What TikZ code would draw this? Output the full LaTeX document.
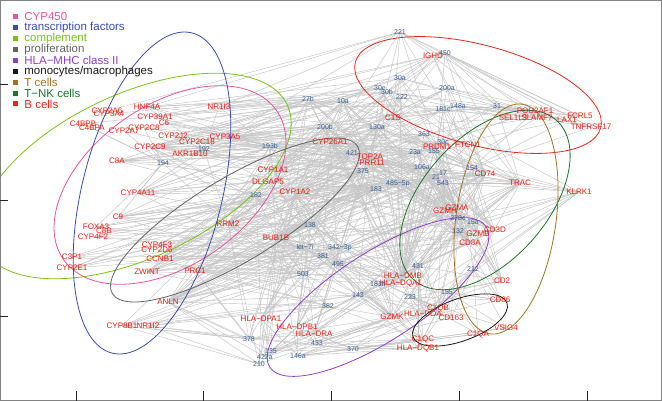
\documentclass[tikz,border=0pt]{standalone}
\usepackage{fontspec}
\setmainfont{Liberation Sans}
\usetikzlibrary{positioning,backgrounds}
\definecolor{cyppink}{RGB}{232,84,160}
\definecolor{tfblue}{RGB}{59,76,175}
\definecolor{complgreen}{RGB}{122,196,16}
\definecolor{prolifgray}{RGB}{100,100,100}
\definecolor{hlapurple}{RGB}{142,62,200}
\definecolor{monoblack}{RGB}{25,25,25}
\definecolor{tbrown}{RGB}{160,115,35}
\definecolor{tnkgreen}{RGB}{30,115,45}
\definecolor{bred}{RGB}{232,38,28}
\definecolor{genered}{RGB}{232,30,20}
\definecolor{mirblue}{RGB}{55,95,150}
\definecolor{linkgray}{RGB}{196,196,196}
\definecolor{framegray}{RGB}{130,130,130}
\tikzset{
  gene/.style={text=genered,font=\fontsize{8}{9}\selectfont,inner sep=0pt},
  mir/.style={text=mirblue,font=\fontsize{7}{8}\selectfont,inner sep=0pt},
  link/.style={draw=linkgray,line width=0.45pt},
  ring/.style={draw=#1,line width=0.8pt},
  legsq/.style={fill=#1,minimum size=5pt,inner sep=0pt},
  legtxt/.style={text=#1,font=\fontsize{11.5}{12}\selectfont,inner sep=0pt,anchor=west},
  axtick/.style={draw=black!85,line width=0.6pt},
}

\begin{document}
\begin{tikzpicture}[x=1pt,y=-1pt]
  \useasboundingbox (0,0) rectangle (662,401);
  \clip (0,0) rectangle (662,401);
  % genes
  \foreach \n/\x/\y/\t in {IGHD/433/56/IGHD, C1S/393/118/C1S, PRDM1/437/147/PRDM1, FTCN1/468/145/FTCN1,
    POU2AF1/535/111/POU2AF1, SEL1L3/513/118/SEL1L3, SLAMF7/537/118/SLAMF7, LAX1/567/120/LAX1,
    FCRL5/580/116/FCRL5, TNFRSF17/591/127/TNFRSF17, CD74/485/174/CD74, TRAC/520/183/TRAC,
    KLRK1/579/192/KLRK1, GZMH/445/211/GZMH, GZMA/457/208/GZMA, GZMB/478/234/GZMB,
    CD3D/495/230/CD3D, CD8A/470/243/CD8A, CD2/502/281/CD2, CD86/500/300/CD86,
    C1QB/438/308/C1QB, HLADOA/423/314/HLA−DOA, CD163/451/318/CD163, C1QC/423/339/C1QC,
    HLADQB1/418/348/HLA−DQB1, C1QA/478/334/C1QA, VSIG4/506/328/VSIG4, HLADMB/403/276/HLA−DMB,
    HLADQA1/401/283/HLA−DQA1, GZMK/392/317/GZMK, HLADPA1/261/319/HLA−DPA1, HLADPB1/297/327/HLA−DPB1,
    HLADRA/314/334/HLA−DRA, ANLN/168/302/ANLN, CYP8B1/122/326/CYP8B1, NR1I2/148/326/NR1I2,
    ZWINT/147/272/ZWINT, PRC1/195/271/PRC1, CCNB1/160/259/CCNB1, CYP4F3/157/245/CYP4F3,
    CYP2D6/157/250/CYP2D6, C3P1/72/257/C3P1, CYP2E1/72/268/CYP2E1, CYP4F2/93/237/CYP4F2,
    FOXA3/96/227/FOXA3, C8B/104/231/C8B, C9/118/217/C9, CYP4A11/138/193/CYP4A11,
    C8A/117/161/C8A, CYP2C9/150/147/CYP2C9, AKR1B10/190/154/AKR1B10, CYP2J2/173/136/CYP2J2,
    CYP2C18/197/142/CYP2C18, CYP3A5/225/137/CYP3A5, NR1I3/219/107/NR1I3, HNF4A/147/107/HNF4A,
    CYP39A1/155/117/CYP39A1, C6/164/123/C6, CYP2C8/144/128/CYP2C8, CYP2A7/124/131/CYP2A7,
    CYP2A6/107/111/CYP2A6, CYP3A4/109/114/CYP3A4, C4BPB/83/124/C4BPB, C4BPA/92/128/C4BPA,
    CYP1A1/273/170/CYP1A1, DLGAP5/268/182/DLGAP5, CYP1A2/295/192/CYP1A2, CYP26A1/330/142/CYP26A1,
    TOP2A/370/157/TOP2A, PRR11/372/163/PRR11, RRM2/228/224/RRM2, BUB1B/276/238/BUB1B}
    \node[gene] (\n) at (\x,\y) {\t};
  % miRNAs
  \foreach \n/\x/\y/\t in {m221/400/32/221, m450/445/53/450, m30a/400/78/30a, m30e/380/88/30e,
    m30b/387/92/30b, m222/402/97/222, m200a/447/88/200a, m181c/443/109/181c, m148a/458/106/148a,
    m31/497/106/31, m27b/308/99/27b, m10a/343/101/10a, m200b/325/127/200b, m130a/377/127/130a,
    m363/424/134/363, m30c/443/142/30c, m15b/434/151/155, m23a/415/152/23a, m421/352/153/421,
    m375/363/171/375, m106a/422/167/106a, m21/436/177/21, m17/443/173/17, m543/443/183/543,
    m154/472/168/154, m183/376/189/183, m485/398/184/485−5p, m193b/270/146/193b, m192/204/149/192,
    m194/163/163/194, m182/256/195/182, m138/310/225/138, mlet7i/305/247/let−7i, m342/340/248/342−3p,
    m381/323/256/381, m495/338/264/495, m503/303/274/503, m431/418/266/431, m181b/378/284/181b,
    m143/358/295/143, m223/410/297/223, m382/328/306/382, m378/249/339/378, m433/317/343/433,
    m370/353/349/370, m135/271/351/135, m422a/265/357/422a, m146a/298/356/146a, m210/259/364/210,
    m378c/458/218/378c, m15a/473/222/15a, m132/458/231/132, m212/473/269/212, m155/447/292/155}
    \node[mir] (\n) at (\x,\y) {\t};

  \begin{scope}[on background layer]
    \foreach \m/\gl in {
      m221/{IGHD,C1S,PRDM1,TNFRSF17,FCRL5,POU2AF1,NR1I3,CYP3A5,CYP26A1,HNF4A,TOP2A,CD74,CYP2A6},
      m450/{IGHD,FCRL5,TNFRSF17,LAX1,SLAMF7,SEL1L3,C1S,PRDM1,CYP26A1,CYP1A1,NR1I3,CD74,TRAC,CYP39A1},
      m30a/{IGHD,C1S,CYP2C9,CYP3A5,CYP1A2,HNF4A,PRDM1,TOP2A,CD74,HLADMB,TNFRSF17,SLAMF7},
      m30e/{C1S,CYP2J2,CYP2C18,NR1I3,CYP1A1,PRR11,HLADQA1,GZMA,CD8A,TRAC,CYP3A4},
      m30b/{IGHD,CYP2C8,CYP39A1,AKR1B10,DLGAP5,TOP2A,ANLN,CD3D,LAX1,POU2AF1},
      m222/{C1S,IGHD,CYP3A5,CYP2C9,CYP1A1,BUB1B,RRM2,HLADPA1,GZMK,SEL1L3,KLRK1},
      m200a/{IGHD,PRDM1,TNFRSF17,FCRL5,CD74,CYP26A1,CYP1A1,HNF4A,C1S,ZWINT,GZMB},
      m181c/{PRDM1,FTCN1,POU2AF1,SEL1L3,C1S,CYP2C9,CYP2E1,TOP2A,CCNB1,CD2,GZMH},
      m148a/{IGHD,POU2AF1,SLAMF7,FCRL5,LAX1,TNFRSF17,CD74,TRAC,CYP3A5,CYP26A1,NR1I3,HLADMB},
      m31/{IGHD,FCRL5,TNFRSF17,LAX1,POU2AF1,SLAMF7,TRAC,C1S,CYP1A2,CYP2C18,ANLN},
      m27b/{NR1I3,CYP3A5,CYP2C9,HNF4A,CYP2J2,CYP1A1,CYP26A1,C1S,PRDM1,IGHD,TOP2A,CD74,HLADQA1,RRM2,C4BPB,GZMH,CD8A,HLADMB,BUB1B,CYP1A2,CYP4A11,C8A},
      m10a/{NR1I3,CYP2C18,CYP39A1,C6,CYP26A1,CYP1A2,TOP2A,PRR11,C1S,IGHD,SLAMF7,CD74,GZMA,HLADMB,CCNB1,CD8A,GZMB,HLADPB1,BUB1B,ANLN,CYP1A1,CYP2C9},
      m200b/{CYP3A5,AKR1B10,CYP2C9,C8A,CYP1A1,DLGAP5,TOP2A,PRR11,CYP26A1,BUB1B,ZWINT,PRDM1,GZMH,HLADPB1,CD8A,CD74,GZMA,HLADMB,HLADQA1,CCNB1,PRC1,CYP4A11},
      m130a/{C1S,PRDM1,TOP2A,CYP26A1,CYP1A2,CYP2C8,HNF4A,CYP4A11,SEL1L3,CD74,TRAC,GZMB,HLADRA,RRM2,GZMA,CD8A,HLADMB,BUB1B,ANLN,CYP1A1,CYP2C9},
      m363/{C1S,PRDM1,FTCN1,TOP2A,CD74,CYP1A1,CYP2J2,C9,GZMA,SLAMF7,HLADMB,CD3D,CYP1A2,HLADQA1,BUB1B,CYP2C18,C8A},
      m30c/{PRDM1,FTCN1,CD74,TRAC,SEL1L3,POU2AF1,CYP3A5,CYP2C9,BUB1B,GZMH,TOP2A,CYP1A2,GZMA,HLADMB,CD8A},
      m15b/{PRDM1,FTCN1,C1S,CD74,TRAC,GZMB,CYP1A2,CYP2C8,ANLN,HLADQA1,KLRK1,TOP2A,CYP26A1,GZMA,CD8A,HLADMB},
      m23a/{PRDM1,C1S,TOP2A,PRR11,CD74,GZMA,CYP3A5,CYP4A11,C8A,HLADMB,CD3D,LAX1,GZMH,CD8A,HLADQA1,BUB1B,CYP1A2,RRM2,CYP2C18,C6},
      m421/{CYP26A1,TOP2A,PRR11,CYP1A1,CYP1A2,DLGAP5,CYP3A5,CYP2C9,HNF4A,C1S,BUB1B,HLADPA1,GZMK,CD8A,GZMA,CD3D,HLADMB,PRC1,ANLN,CCNB1,CYP4F3,C8A},
      m375/{TOP2A,PRR11,CYP1A2,CYP26A1,CYP2C18,AKR1B10,CYP4A11,RRM2,BUB1B,C1S,PRDM1,GZMH,HLADRA,ANLN,GZMA,CD74,HLADQA1,ZWINT,CYP2C9,C9,CYP4F2},
      m106a/{PRDM1,CD74,GZMA,GZMH,CD3D,TOP2A,CYP1A1,CYP2C9,CYP2J2,C6,ZWINT,TRAC,HLADQA1,KLRK1,GZMB,CD8A,HLADMB,BUB1B,RRM2,CYP1A2,AKR1B10,CYP4A11},
      m21/{CD74,GZMH,GZMA,CD8A,CD3D,TRAC,PRDM1,FTCN1,CYP3A5,CYP2E1,C3P1,PRC1,HLADMB,CD2,KLRK1,HLADQA1,TOP2A,CYP1A2,CYP26A1,BUB1B,ANLN,CYP2C9,C9},
      m17/{CD74,TRAC,GZMA,GZMB,CD3D,PRDM1,TOP2A,CYP1A2,CYP2C8,C8B,CCNB1,HLADOA,SLAMF7,GZMH,CD8A,CYP26A1,HLADMB,BUB1B,RRM2},
      m543/{CD74,TRAC,GZMH,CD8A,CD2,CYP1A1,CYP4F2,ANLN,HLADQA1,C1QB,KLRK1,GZMA,TOP2A,CYP26A1,HLADMB,BUB1B,PRC1},
      m154/{CD74,TRAC,GZMA,GZMB,CD3D,CD2,KLRK1,FTCN1,POU2AF1,TNFRSF17,LAX1,CYP26A1,HLADMB},
      m183/{TOP2A,PRR11,CYP1A2,CYP1A1,CYP26A1,DLGAP5,CYP2C9,C8A,BUB1B,RRM2,HLADPB1,GZMK,GZMH,CD74,ZWINT,CD8A,GZMA,HLADMB,PRC1,ANLN,CCNB1,C9,FOXA3,CYP2E1},
      m485/{TOP2A,CYP26A1,CYP1A2,CYP4A11,C9,FOXA3,GZMA,GZMH,CD8A,HLADQA1,HLADMB,PRDM1,CD74,C1QB,TRAC,CD3D,HLADOA,BUB1B,RRM2,ANLN,CYP2C9,CYP3A5},
      m193b/{CYP3A5,CYP2C18,NR1I3,CYP1A1,CYP1A2,DLGAP5,CYP2C9,HNF4A,C6,CYP39A1,AKR1B10,TOP2A,C1S,RRM2,ANLN,HLADMB,GZMA,PRDM1,BUB1B,CYP4A11,C8A,C9},
      m192/{CYP3A5,CYP2C18,CYP2J2,AKR1B10,CYP2C9,CYP2C8,NR1I3,HNF4A,CYP1A1,DLGAP5,RRM2,CYP4A11,C8A,CYP26A1,CYP2A7},
      m194/{C8A,CYP2C9,CYP4A11,AKR1B10,CYP2C8,C4BPA,C4BPB,CYP2A7,CYP1A1,CYP1A2,C9,FOXA3,RRM2,CYP26A1},
      m182/{CYP1A1,DLGAP5,CYP1A2,RRM2,BUB1B,CYP4A11,C9,CYP2E1,C3P1,CYP4F3,CCNB1,PRC1,ZWINT,TOP2A,HLADPA1,CYP26A1,HLADMB,GZMK,GZMA,CD74,CYP2C9,C8A,FOXA3,CYP8B1},
      m138/{BUB1B,RRM2,CYP1A2,DLGAP5,PRC1,CCNB1,ANLN,ZWINT,CYP4F2,C8B,HLADPA1,HLADPB1,GZMK,TOP2A,CYP26A1,HLADMB,HLADQA1,GZMA,CD8A,CYP2C9,CYP4A11,C9,CYP2E1,C3P1},
      mlet7i/{BUB1B,RRM2,CCNB1,PRC1,ANLN,ZWINT,CYP4F3,CYP2D6,CYP8B1,NR1I2,HLADPA1,HLADRA,CYP1A2,TOP2A,GZMK,C1QC,HLADMB,HLADQA1,GZMH,CD74,CYP1A1,CYP2C9,C8B,FOXA3},
      m342/{BUB1B,HLADPA1,HLADPB1,HLADRA,HLADMB,GZMK,CYP1A2,DLGAP5,PRC1,ANLN,CCNB1,TOP2A,C9,CYP2E1,CD8A,GZMA,GZMH,CD74,TRAC,CYP1A1,CYP4F2,ZWINT},
      m381/{BUB1B,PRC1,ZWINT,CCNB1,CYP4F2,C3P1,HLADPA1,HLADPB1,HLADQA1,CYP1A1,RRM2,GZMK,C1QB,GZMA,CD3D,CD74,HLADMB,CYP26A1,TOP2A,CYP8B1},
      m495/{BUB1B,HLADPB1,HLADRA,HLADQA1,HLADMB,GZMK,CYP1A2,CYP26A1,TOP2A,ANLN,PRC1,CD8A,GZMH,CD74,TRAC,GZMA,CD3D,C1QB,CYP4F3,CCNB1},
      m503/{BUB1B,PRC1,ANLN,ZWINT,HLADPA1,HLADPB1,CYP8B1,NR1I2,CYP4F3,CYP2D6,CYP1A2,RRM2,DLGAP5,C3P1,HLADMB,HLADQA1,GZMK,CD74,TOP2A,CYP4A11,C9},
      m431/{HLADMB,HLADQA1,HLADOA,GZMK,GZMH,GZMA,CD8A,CD3D,CD2,C1QB,CD163,KLRK1,TRAC,CD74,TOP2A,CYP26A1,BUB1B,HLADPB1,HLADRA,CYP1A2,PRC1,C1QC,HLADQB1},
      m181b/{HLADMB,HLADQA1,HLADOA,HLADQB1,C1QC,GZMK,HLADPB1,HLADRA,BUB1B,CYP1A2,PRC1,CD86,TRAC},
      m143/{HLADPB1,HLADRA,HLADMB,HLADQA1,GZMK,BUB1B,ANLN,PRC1,CYP8B1,NR1I2,C1QC,HLADQB1,CD163,CYP1A1,GZMA,CD8A,CD74,TOP2A,CYP1A2,RRM2,C1QB},
      m223/{HLADMB,HLADQA1,HLADOA,C1QB,CD163,C1QA,C1QC,CD86,VSIG4,CD2,GZMK,GZMA,KLRK1,TRAC,CD74},
      m382/{HLADPA1,HLADPB1,HLADRA,GZMK,HLADQA1,ANLN,PRC1,ZWINT,CCNB1,CYP8B1,NR1I2,BUB1B,RRM2,C1QC},
      m378/{HLADPA1,HLADPB1,ANLN,PRC1,BUB1B,CYP8B1,NR1I2,HLADRA,GZMK,RRM2,CYP1A2},
      m433/{HLADPB1,HLADRA,HLADQB1,C1QC,HLADOA,GZMK,BUB1B,HLADPA1,CD2},
      m370/{HLADQB1,C1QC,C1QA,HLADOA,GZMK,HLADRA,HLADPB1,CYP8B1,NR1I2,VSIG4},
      m135/{HLADPA1,HLADPB1,HLADRA,HLADMB,GZMK,BUB1B,ANLN,HLADQB1,C1QC,CD86},
      m422a/{HLADPA1,HLADPB1,HLADRA,ANLN,BUB1B,GZMK,HLADQA1,PRC1,CYP1A2},
      m146a/{HLADPB1,HLADRA,HLADQB1,C1QC,HLADOA,GZMK,C1QA,VSIG4,CD163,HLADPA1,BUB1B},
      m210/{HLADPA1,ANLN,NR1I2,CYP8B1,HLADPB1,BUB1B,CYP1A2,GZMK,RRM2},
      m378c/{GZMA,GZMH,GZMB,CD3D,CD8A,CD74,TRAC,KLRK1,CD2,HLADMB,HLADQA1,TOP2A,CYP26A1,PRDM1,BUB1B,CYP1A2,HLADOA,C1QB,ANLN},
      m15a/{GZMA,GZMB,CD3D,CD8A,CD2,CD74,TRAC,KLRK1,CD86,HLADQA1,BUB1B,CYP1A2},
      m132/{GZMA,GZMH,GZMB,CD8A,CD3D,CD2,CD86,KLRK1,C1QB,CD163,HLADMB,TRAC,CD74,ANLN,TOP2A,CYP1A2,BUB1B,HLADQA1,GZMK},
      m212/{CD2,CD86,VSIG4,C1QA,CD163,C1QB,GZMB,CD8A,KLRK1,HLADOA,HLADQB1,TRAC,GZMK},
      m155/{CD86,C1QB,CD163,C1QA,C1QC,VSIG4,CD2,HLADOA,HLADQB1,GZMK,KLRK1,CD3D}}
      {\foreach \g in \gl {\draw[link] (\m.center) -- (\g.center);}}
    % gene groups
    \draw[ring=complgreen,rotate around={25:(135,176)}] (135,176) ellipse [x radius=168pt,y radius=82pt];
    \draw[ring=cyppink,rotate around={35:(170,185)}] (170,185) ellipse [x radius=130pt,y radius=80pt];
    \draw[ring=tfblue,rotate around={76:(152,193)}] (152,193) ellipse [x radius=165pt,y radius=70pt];
    \draw[ring=prolifgray,rotate around={31:(235,220)}] (235,220) ellipse [x radius=143pt,y radius=42pt];
    \draw[ring=bred,rotate around={-15:(478,95)}] (478,95) ellipse [x radius=127pt,y radius=50pt];
    \draw[ring=hlapurple,rotate around={33:(378,297)}] (378,297) ellipse [x radius=129pt,y radius=44pt];
    \draw[ring=tnkgreen,rotate around={48:(485,200)}] (485,200) ellipse [x radius=107pt,y radius=62pt];
    \draw[ring=tbrown,rotate around={82:(506,219)}] (506,219) ellipse [x radius=116pt,y radius=50pt];
    \draw[ring=monoblack,rotate around={20:(460,320)}] (460,320) ellipse [x radius=50pt,y radius=21pt];
  \end{scope}

  \foreach \col/\txt [count=\i] in {cyppink/CYP450, tfblue/transcription factors, complgreen/complement,
    prolifgray/proliferation, hlapurple/HLA−MHC class II, monoblack/{monocytes/macrophages},
    tbrown/T cells, tnkgreen/T−NK cells, bred/B cells} {
    \node[legsq=\col] (sq\i) at (15,{6.1+10.875*\i}) {};
    \node[legtxt=\col,right=6.5pt of sq\i] (lg\i) {\txt};
  }

  \draw[framegray,line width=0.8pt] (0.5,0.5) rectangle (661.5,400.5);
  \foreach \y in {84,200,316} \draw[axtick] (0,\y) -- (8,\y);
  \foreach \x in {76,203,331,459,587} \draw[axtick] (\x,391) -- (\x,401);
\end{tikzpicture}
\end{document}
